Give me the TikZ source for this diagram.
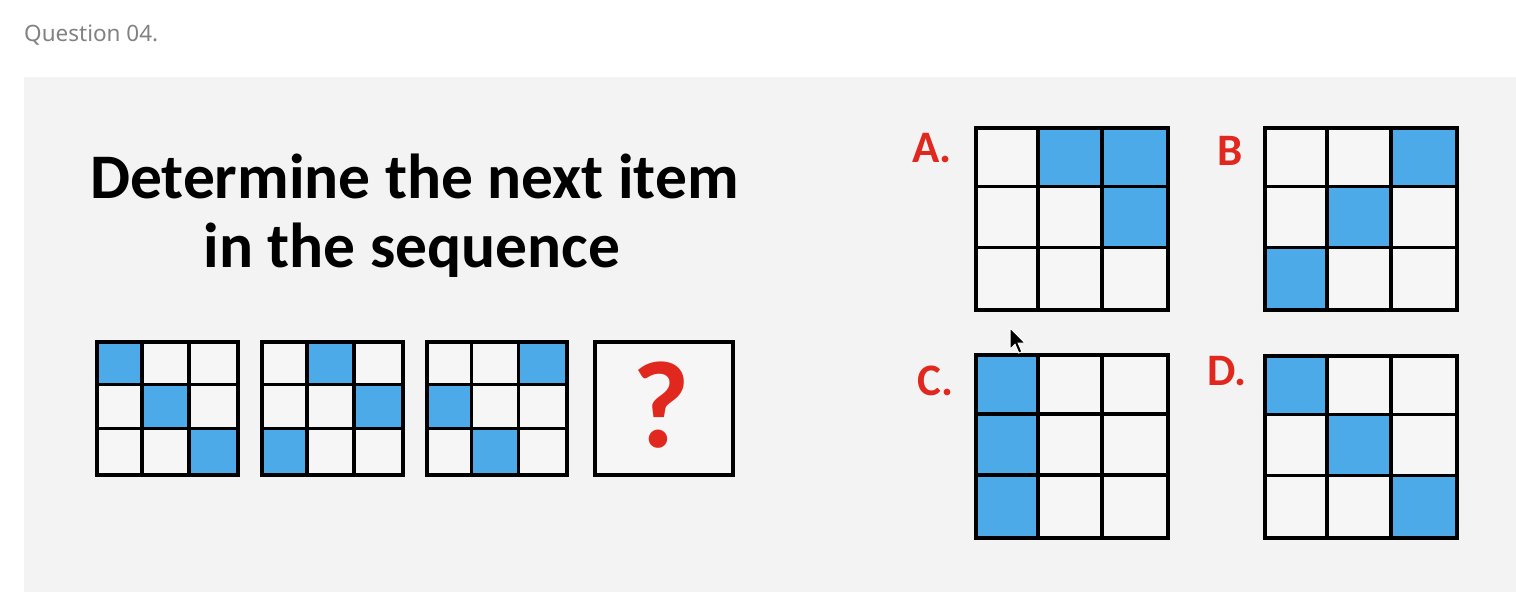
\documentclass[tikz,border=0pt]{standalone}
\usepackage{fontspec}
\setmainfont{Carlito}
\newfontfamily\qfont{Noto Sans}
\usetikzlibrary{calc}
\definecolor{panelgray}{HTML}{F3F3F3}
\definecolor{cellwhite}{HTML}{F6F6F6}
\definecolor{cellblue}{HTML}{4DAAE8}
\definecolor{qred}{HTML}{E0281E}
\definecolor{headgray}{HTML}{828282}
\tikzset{
  gridline/.style={draw=black, line width=3.5pt},
  outerbox/.style={draw=black, line width=4pt, inner sep=0pt, fill=none},
  label/.style={text=qred, font=\fontsize{45}{45}\selectfont\bfseries, inner sep=0pt, anchor=base west},
  titletext/.style={font=\fontsize{63.5}{63.5}\selectfont\bfseries, inner sep=0pt, anchor=base},
}
% #1 name, #2 x, #3 y, #4 w, #5 h, #6 blue cells r/c  (path coordinates, line centred on them)
\newcommand\qgrid[6]{%
  \fill[cellwhite] (#2,#3) rectangle ++(#4,#5);
  \foreach \r/\c in {#6}{\fill[cellblue] ({#2+\c*#4/3},{#3+\r*#5/3}) rectangle ++({#4/3},{#5/3});}
  \foreach \i in {1,2}{%
    \draw[gridline] ({#2+\i*#4/3},#3) -- ({#2+\i*#4/3},{#3+#5});
    \draw[gridline] (#2,{#3+\i*#5/3}) -- ({#2+#4},{#3+\i*#5/3});}
  \node[outerbox, minimum width=#4pt, minimum height=#5pt, anchor=north west] (#1) at (#2,#3) {};
}
\begin{document}
\begin{tikzpicture}[x=1pt, y=-1pt]
\useasboundingbox (0,0) rectangle (1516,592);
\fill[white] (0,0) rectangle (1516,592);
\fill[panelgray] (24,77) rectangle (1516,592);
\node[font=\qfont\fontsize{22.5}{22.5}\selectfont, text=headgray, inner sep=0pt, anchor=base west] (head) at (24,41) {Question 04.};
\node[titletext] (t1) at (414.5,198) {Determine the next item};
\node[titletext] (t2) at (412,267) {in the sequence};
% sequence
\qgrid{s1}{95}{340}{141}{133}{0/0,1/1,2/2}
\qgrid{s2}{260}{340}{141}{133}{0/1,1/2,2/0}
\qgrid{s3}{425}{340}{140}{133}{0/2,1/0,2/1}
\node[outerbox, fill=cellwhite, minimum width=138pt, minimum height=133pt, anchor=north west] (q) at (593,340) {};
\node[text=qred, font=\fontsize{124}{124}\selectfont\bfseries, inner sep=0pt, anchor=base] (qm) at (661,447) {?};
% answers
\qgrid{ga}{974}{126}{192}{182}{0/1,0/2,1/2}
\qgrid{gb}{1263}{126}{192}{182}{0/2,1/1,2/0}
\qgrid{gc}{974}{353}{192}{183}{0/0,1/0,2/0}
\qgrid{gd}{1263}{354}{192}{182}{0/0,1/1,2/2}
\node[label] (la) at (912,162) {A.};
\node[label] (lb) at (1217,165) {B};
\node[label] (lc) at (917,395) {C.};
\node[label] (ld) at (1207,385) {D.};
% cursor
\filldraw[fill=black, draw=white, line width=1pt, shift={(1010,328)}, scale=1.25]
  (0,0) -- (0,17) -- (4,13) -- (7,20) -- (9.5,19) -- (6.5,12) -- (12,12) -- cycle;
\end{tikzpicture}
\end{document}
